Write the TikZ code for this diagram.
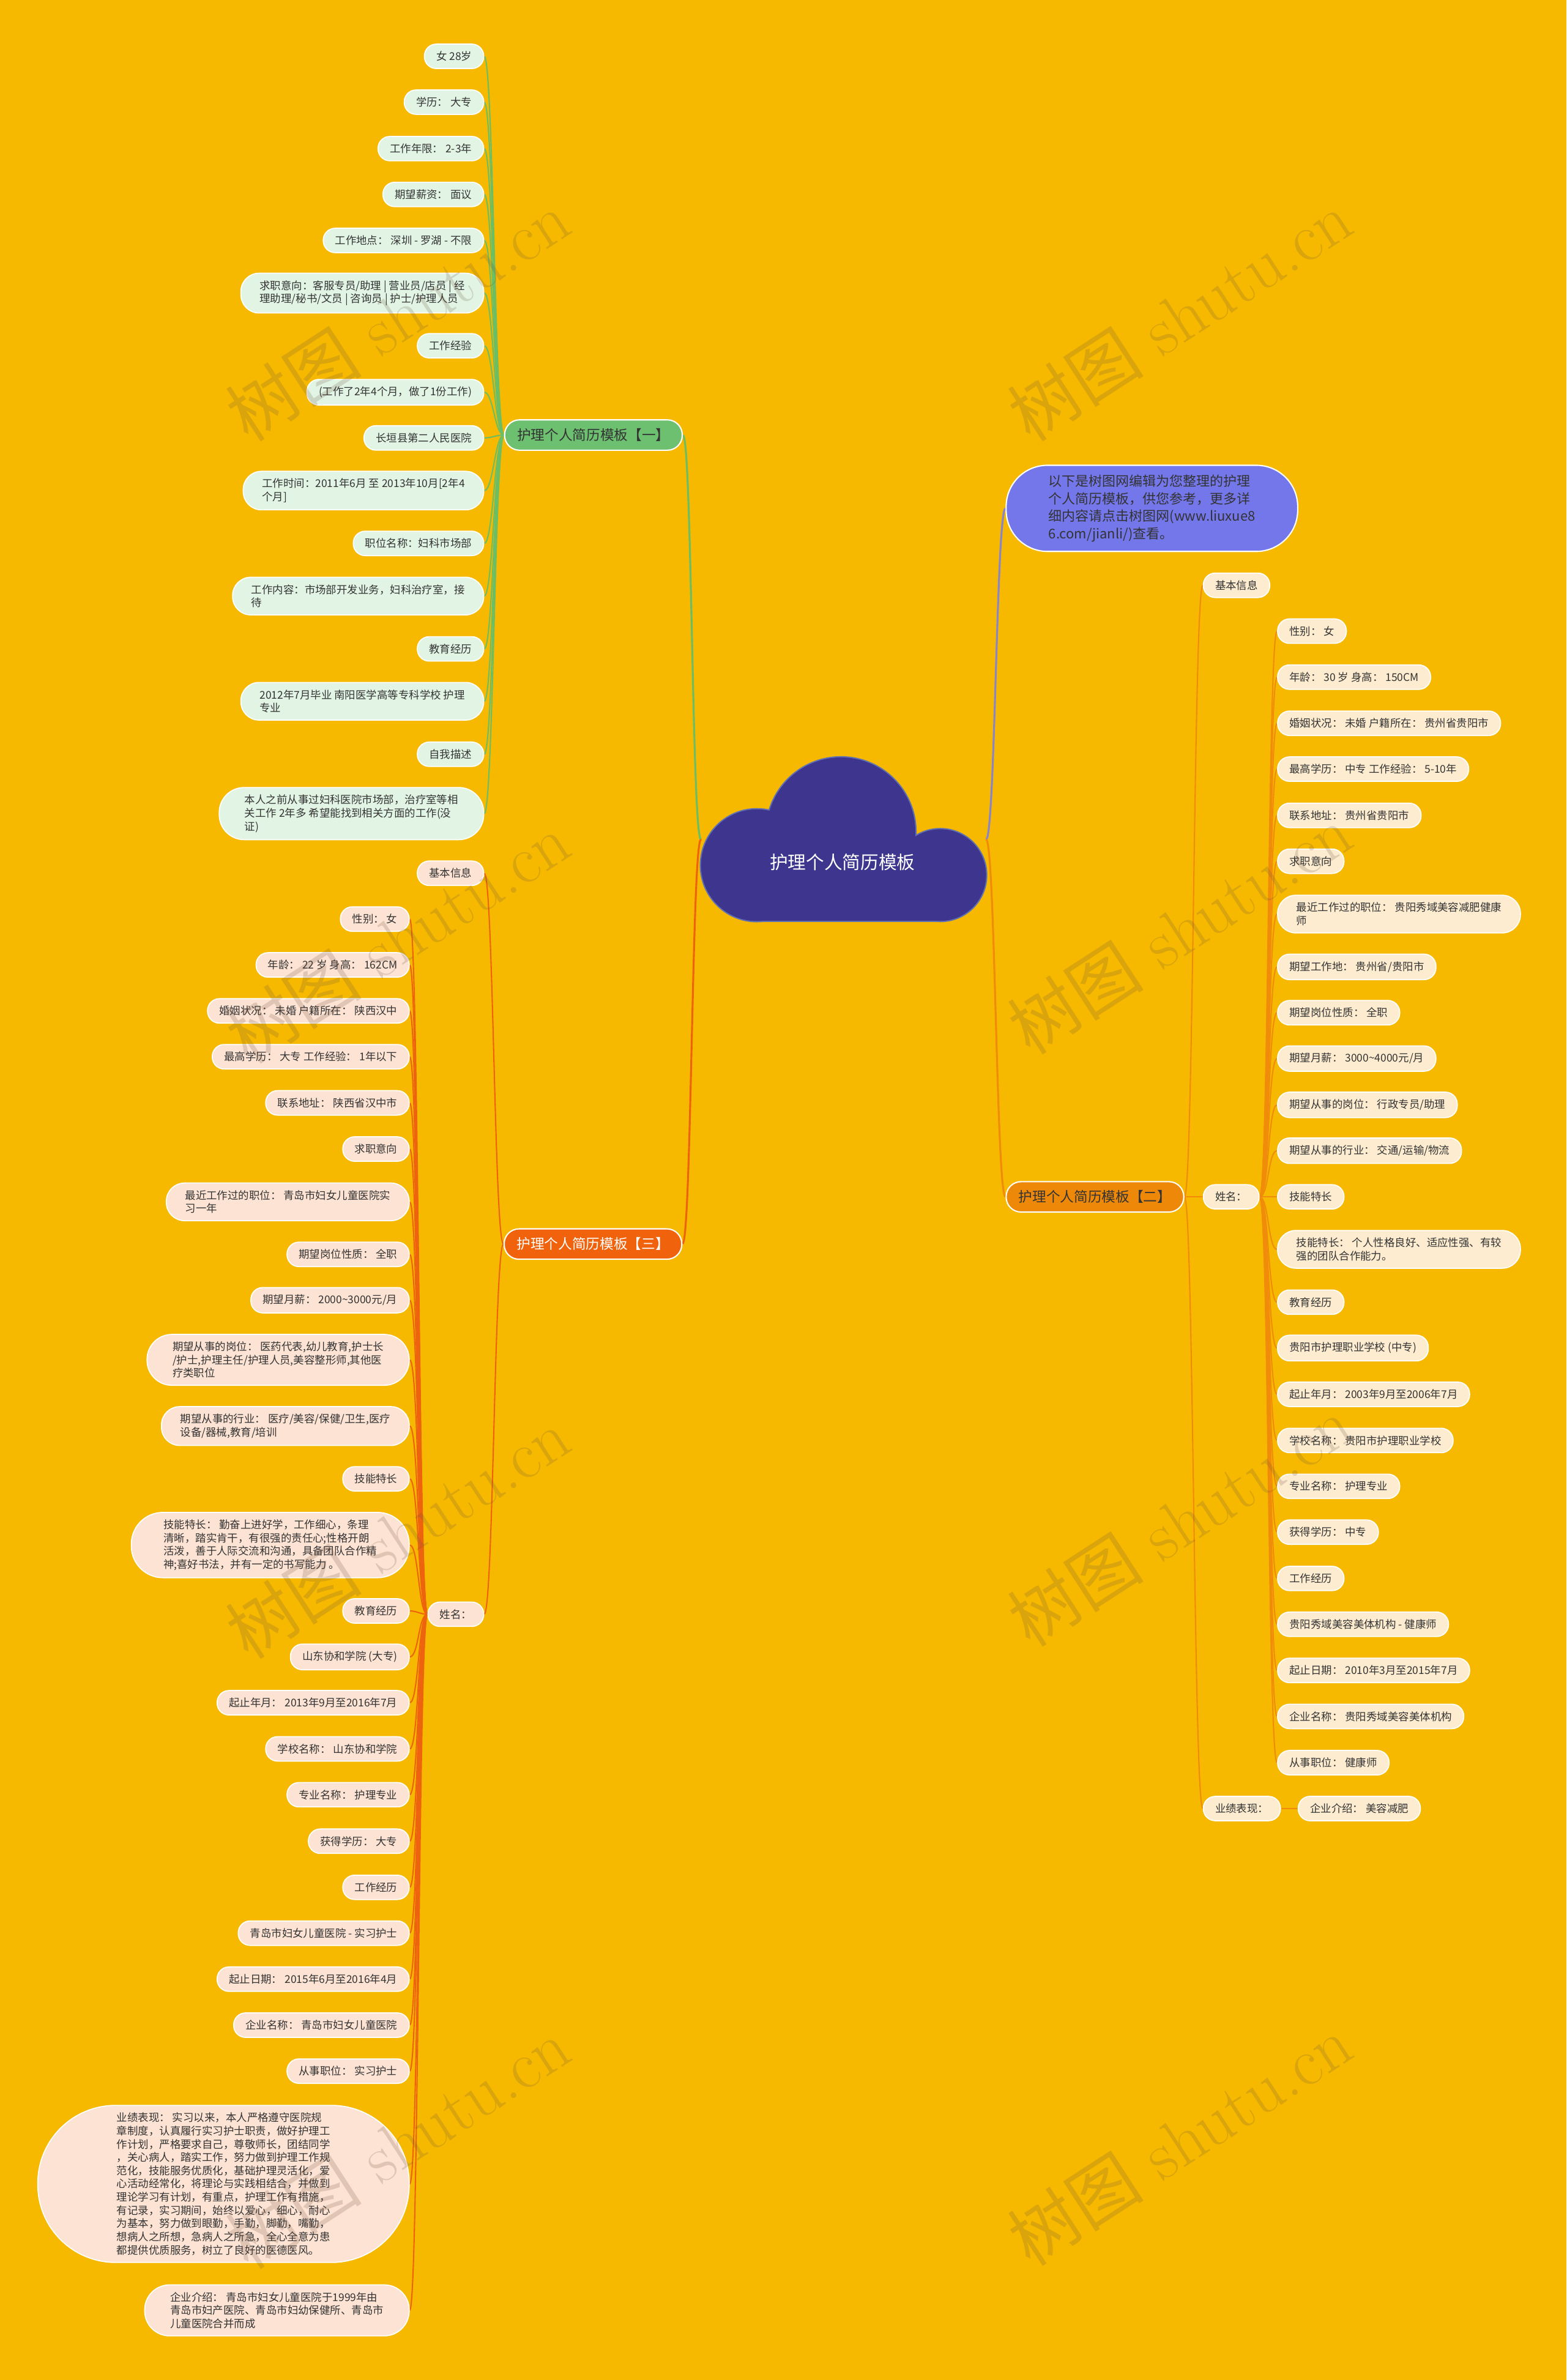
\documentclass[tikz,border=0pt]{standalone}
\usepackage{fontspec}
\newfontfamily\cjk{Noto Sans CJK SC}
\usetikzlibrary{backgrounds,topaths}

\definecolor{bgyellow}{RGB}{246,185,0}
\definecolor{cloudblue}{RGB}{61,53,142}
\definecolor{cloudedge}{RGB}{96,112,178}
\definecolor{ink}{RGB}{51,51,51}
\definecolor{mint}{RGB}{226,245,228}
\definecolor{peach}{RGB}{253,227,211}
\definecolor{cream}{RGB}{253,236,208}
\definecolor{greenhead}{RGB}{108,192,112}
\definecolor{redhead}{RGB}{240,98,12}
\definecolor{orangehead}{RGB}{238,136,8}
\definecolor{introblue}{RGB}{116,119,234}
\definecolor{greenwire}{RGB}{108,190,100}
\definecolor{redwire}{RGB}{238,100,14}
\definecolor{orangewire}{RGB}{240,140,10}
\definecolor{introwire}{RGB}{138,132,200}
\definecolor{stampbrown}{RGB}{110,80,60}

\tikzset{
  pill/.style={rectangle, rounded corners=0.195cm, draw=white, line width=0.5pt,
    inner xsep=0.195cm, inner ysep=3.4pt, minimum height=0.395cm, text=ink,
    align=left, font=\cjk\fontsize{5}{6.2}\selectfont},
  gleaf/.style={pill, fill=mint},
  rleaf/.style={pill, fill=peach},
  oleaf/.style={pill, fill=cream},
  lines2/.style={rounded corners=0.3cm, inner xsep=0.31cm},
  lines3/.style={rounded corners=0.41cm, inner xsep=0.42cm},
  lines4/.style={rounded corners=0.52cm, inner xsep=0.53cm},
  lines11/.style={rounded corners=1.28cm, inner xsep=1.3cm},
  head/.style={rectangle, rounded corners=0.245cm, draw=white, line width=0.6pt,
    minimum height=0.5cm, minimum width=2.925cm,
    font=\cjk\fontsize{6.5}{7.5}\selectfont},
  intro/.style={rectangle, rounded corners=0.68cm, draw=white, line width=0.6pt,
    fill=introblue, inner xsep=0.7cm, inner ysep=4.3pt, text=ink, align=left,
    font=\cjk\fontsize{6.3}{8.3}\selectfont},
  cloudrim/.style={fill=cloudblue, draw=cloudedge, line width=1.2pt},
  trunk/.style={line width=0.9pt},
  wire/.style={line width=0.6pt},
  lwire/.style={out=180, in=0, max distance=0.15cm},
  rwire/.style={out=0, in=180, max distance=0.15cm},
  wmark/.style={font=\fontsize{32}{32}\selectfont, text=stampbrown,
    text opacity=0.2, inner sep=0pt}
}

\begin{document}
\begin{tikzpicture}[x=0.025cm, y=-0.025cm]
    % sheet size
    \useasboundingbox (0,0) rectangle (1032,1568);

    % the cloud: outline first, then fill again to hide the inner seams
    \filldraw[cloudrim] (498.6,570) circle[radius=36.8];
    \filldraw[cloudrim] (554,548) circle[radius=49];
    \filldraw[cloudrim] (619.4,576.5) circle[radius=30.2];
    \filldraw[cloudrim] (498.6,560) rectangle (619.4,606.7);
    \fill[cloudblue] (498.6,570) circle[radius=36.8];
    \fill[cloudblue] (554,548) circle[radius=49];
    \fill[cloudblue] (619.4,576.5) circle[radius=30.2];
    \fill[cloudblue] (498.6,560) rectangle (619.4,606.7);
    \node[font=\cjk\fontsize{8.5}{10}\selectfont, text=white] (root) at (555,568) {护理个人简历模板};
    \coordinate (rootw) at (461.8,553);
    \coordinate (roote) at (649.6,553);

    % branch heads
    \node[head, fill=greenhead, text=ink, anchor=west] (headg) at (332,286.6) {护理个人简历模板【一】};
    \node[head, fill=redhead, text=white, anchor=west] (headr) at (331.7,819.6) {护理个人简历模板【三】};
    \node[head, fill=orangehead, text=ink, anchor=west] (heado) at (662.4,788.5) {护理个人简历模板【二】};
    \node[intro, anchor=west] (intro) at (662.4,334.9) {以下是树图网编辑为您整理的护理\\个人简历模板，供您参考，更多详\\细内容请点击树图网(www.liuxue8\\6.com/jianli/)查看。};

    % branch one (left, green)
    \node[gleaf, anchor=east] (g1) at (319,37.1) {女 28岁};
    \node[gleaf, anchor=east] (g2) at (319,67.3) {学历： 大专};
    \node[gleaf, anchor=east] (g3) at (319,97.9) {工作年限： 2-3年};
    \node[gleaf, anchor=east] (g4) at (319,128.1) {期望薪资： 面议};
    \node[gleaf, anchor=east] (g5) at (319,158.4) {工作地点： 深圳 - 罗湖 - 不限};
    \node[gleaf, lines2, anchor=east] (g6) at (319,193.1) {求职意向：客服专员/助理 | 营业员/店员 | 经\\理助理/秘书/文员 | 咨询员 | 护士/护理人员};
    \node[gleaf, anchor=east] (g7) at (319,227.8) {工作经验};
    \node[gleaf, anchor=east] (g8) at (319,258.4) {(工作了2年4个月，做了1份工作)};
    \node[gleaf, anchor=east] (g9) at (319,288.5) {长垣县第二人民医院};
    \node[gleaf, lines2, anchor=east] (g10) at (319,323.2) {工作时间：2011年6月 至 2013年10月[2年4\\个月]};
    \node[gleaf, anchor=east] (g11) at (319,358) {职位名称：妇科市场部};
    \node[gleaf, lines2, anchor=east] (g12) at (319,392.7) {工作内容：市场部开发业务，妇科治疗室，接\\待};
    \node[gleaf, anchor=east] (g13) at (319,427.5) {教育经历};
    \node[gleaf, lines2, anchor=east] (g14) at (319,462) {2012年7月毕业 南阳医学高等专科学校 护理\\专业};
    \node[gleaf, anchor=east] (g15) at (319,496.9) {自我描述};
    \node[gleaf, lines3, anchor=east] (g16) at (319,536) {本人之前从事过妇科医院市场部，治疗室等相\\关工作 2年多 希望能找到相关方面的工作(没\\证)};

    % branch three (left, red)
    \node[rleaf, anchor=east] (rb) at (319,575.3) {基本信息};
    \node[rleaf, anchor=east] (rn) at (319,1063.5) {姓名：};
    \node[rleaf, anchor=east] (r1) at (269.9,605.5) {性别： 女};
    \node[rleaf, anchor=east] (r2) at (269.9,635.7) {年龄： 22 岁 身高： 162CM};
    \node[rleaf, anchor=east] (r3) at (269.9,666) {婚姻状况： 未婚 户籍所在： 陕西汉中};
    \node[rleaf, anchor=east] (r4) at (269.9,696.2) {最高学历： 大专 工作经验： 1年以下};
    \node[rleaf, anchor=east] (r5) at (269.9,726.6) {联系地址： 陕西省汉中市};
    \node[rleaf, anchor=east] (r6) at (269.9,757) {求职意向};
    \node[rleaf, lines2, anchor=east] (r7) at (269.9,791.8) {最近工作过的职位： 青岛市妇女儿童医院实\\习一年};
    \node[rleaf, anchor=east] (r8) at (269.9,826.4) {期望岗位性质： 全职};
    \node[rleaf, anchor=east] (r9) at (269.9,856.6) {期望月薪： 2000\textasciitilde3000元/月};
    \node[rleaf, lines3, anchor=east] (r10) at (269.9,895.9) {期望从事的岗位： 医药代表,幼儿教育,护士长\\/护士,护理主任/护理人员,美容整形师,其他医\\疗类职位};
    \node[rleaf, lines2, anchor=east] (r11) at (269.9,939.5) {期望从事的行业： 医疗/美容/保健/卫生,医疗\\设备/器械,教育/培训};
    \node[rleaf, anchor=east] (r12) at (269.9,974.3) {技能特长};
    \node[rleaf, lines4, anchor=east] (r13) at (269.9,1017.9) {技能特长： 勤奋上进好学，工作细心，条理\\清晰，踏实肯干，有很强的责任心;性格开朗\\活泼，善于人际交流和沟通，具备团队合作精\\神;喜好书法，并有一定的书写能力 。};
    \node[rleaf, anchor=east] (r14) at (269.9,1061.3) {教育经历};
    \node[rleaf, anchor=east] (r15) at (269.9,1091.6) {山东协和学院 (大专)};
    \node[rleaf, anchor=east] (r16) at (269.9,1121.8) {起止年月： 2013年9月至2016年7月};
    \node[rleaf, anchor=east] (r17) at (269.9,1152.2) {学校名称： 山东协和学院};
    \node[rleaf, anchor=east] (r18) at (269.9,1182.4) {专业名称： 护理专业};
    \node[rleaf, anchor=east] (r19) at (269.9,1213) {获得学历： 大专};
    \node[rleaf, anchor=east] (r20) at (269.9,1243.4) {工作经历};
    \node[rleaf, anchor=east] (r21) at (269.9,1273.6) {青岛市妇女儿童医院 - 实习护士};
    \node[rleaf, anchor=east] (r22) at (269.9,1303.9) {起止日期： 2015年6月至2016年4月};
    \node[rleaf, anchor=east] (r23) at (269.9,1334.2) {企业名称： 青岛市妇女儿童医院};
    \node[rleaf, anchor=east] (r24) at (269.9,1364.5) {从事职位： 实习护士};
    \node[rleaf, lines11, anchor=east] (r25) at (269.9,1438.8) {业绩表现： 实习以来，本人严格遵守医院规\\章制度，认真履行实习护士职责，做好护理工\\作计划，严格要求自己，尊敬师长，团结同学\\，关心病人，踏实工作，努力做到护理工作规\\范化，技能服务优质化，基础护理灵活化，爱\\心活动经常化，将理论与实践相结合，并做到\\理论学习有计划，有重点，护理工作有措施，\\有记录，实习期间，始终以爱心，细心，耐心\\为基本，努力做到眼勤，手勤，脚勤，嘴勤，\\想病人之所想，急病人之所急，全心全意为患\\都提供优质服务，树立了良好的医德医风。};
    \node[rleaf, lines3, anchor=east] (r26) at (269.9,1522.1) {企业介绍： 青岛市妇女儿童医院于1999年由\\青岛市妇产医院、青岛市妇幼保健所、青岛市\\儿童医院合并而成};

    % branch two (right, orange)
    \node[oleaf, anchor=west] (ob) at (792.4,385.6) {基本信息};
    \node[oleaf, anchor=west] (on) at (792.4,788.5) {姓名：};
    \node[oleaf, anchor=west] (op) at (792.4,1191.5) {业绩表现：};
    \node[oleaf, anchor=west] (oq) at (854.9,1191.5) {企业介绍： 美容减肥};
    \node[oleaf, anchor=west] (o1) at (841.3,415.8) {性别： 女};
    \node[oleaf, anchor=west] (o2) at (841.3,446.1) {年龄： 30 岁 身高： 150CM};
    \node[oleaf, anchor=west] (o3) at (841.3,476.5) {婚姻状况： 未婚 户籍所在： 贵州省贵阳市};
    \node[oleaf, anchor=west] (o4) at (841.3,506.7) {最高学历： 中专 工作经验： 5-10年};
    \node[oleaf, anchor=west] (o5) at (841.3,537.2) {联系地址： 贵州省贵阳市};
    \node[oleaf, anchor=west] (o6) at (841.3,567.4) {求职意向};
    \node[oleaf, lines2, anchor=west] (o7) at (841.3,602.2) {最近工作过的职位： 贵阳秀域美容减肥健康\\师};
    \node[oleaf, anchor=west] (o8) at (841.3,637) {期望工作地： 贵州省/贵阳市};
    \node[oleaf, anchor=west] (o9) at (841.3,667.2) {期望岗位性质： 全职};
    \node[oleaf, anchor=west] (o10) at (841.3,697.4) {期望月薪： 3000\textasciitilde4000元/月};
    \node[oleaf, anchor=west] (o11) at (841.3,727.9) {期望从事的岗位： 行政专员/助理};
    \node[oleaf, anchor=west] (o12) at (841.3,758.1) {期望从事的行业： 交通/运输/物流};
    \node[oleaf, anchor=west] (o13) at (841.3,788.5) {技能特长};
    \node[oleaf, lines2, anchor=west] (o14) at (841.3,823.1) {技能特长： 个人性格良好、适应性强、有较\\强的团队合作能力。};
    \node[oleaf, anchor=west] (o15) at (841.3,857.9) {教育经历};
    \node[oleaf, anchor=west] (o16) at (841.3,888.1) {贵阳市护理职业学校 (中专)};
    \node[oleaf, anchor=west] (o17) at (841.3,918.6) {起止年月： 2003年9月至2006年7月};
    \node[oleaf, anchor=west] (o18) at (841.3,949) {学校名称： 贵阳市护理职业学校};
    \node[oleaf, anchor=west] (o19) at (841.3,979.2) {专业名称： 护理专业};
    \node[oleaf, anchor=west] (o20) at (841.3,1009.4) {获得学历： 中专};
    \node[oleaf, anchor=west] (o21) at (841.3,1039.9) {工作经历};
    \node[oleaf, anchor=west] (o22) at (841.3,1070.1) {贵阳秀域美容美体机构 - 健康师};
    \node[oleaf, anchor=west] (o23) at (841.3,1100.5) {起止日期： 2010年3月至2015年7月};
    \node[oleaf, anchor=west] (o24) at (841.3,1130.8) {企业名称： 贵阳秀域美容美体机构};
    \node[oleaf, anchor=west] (o25) at (841.3,1161.3) {从事职位： 健康师};

    \begin{scope}[on background layer]
    \fill[bgyellow] (0,0) rectangle (1032,1568);

    % trunks out of the cloud
    \draw[trunk, greenwire] (headg.east) to[rwire] (rootw);
    \draw[trunk, redwire] (headr.east) to[rwire] (rootw);
    \draw[trunk, introwire] (roote) to[rwire] (intro.west);
    \draw[trunk, orangewire] (roote) to[rwire] (heado.west);

    % branch one
    \draw[wire, greenwire] (headg.west) to[lwire] (g1.east);
    \draw[wire, greenwire] (headg.west) to[lwire] (g2.east);
    \draw[wire, greenwire] (headg.west) to[lwire] (g3.east);
    \draw[wire, greenwire] (headg.west) to[lwire] (g4.east);
    \draw[wire, greenwire] (headg.west) to[lwire] (g5.east);
    \draw[wire, greenwire] (headg.west) to[lwire] (g6.east);
    \draw[wire, greenwire] (headg.west) to[lwire] (g7.east);
    \draw[wire, greenwire] (headg.west) to[lwire] (g8.east);
    \draw[wire, greenwire] (headg.west) to[lwire] (g9.east);
    \draw[wire, greenwire] (headg.west) to[lwire] (g10.east);
    \draw[wire, greenwire] (headg.west) to[lwire] (g11.east);
    \draw[wire, greenwire] (headg.west) to[lwire] (g12.east);
    \draw[wire, greenwire] (headg.west) to[lwire] (g13.east);
    \draw[wire, greenwire] (headg.west) to[lwire] (g14.east);
    \draw[wire, greenwire] (headg.west) to[lwire] (g15.east);
    \draw[wire, greenwire] (headg.west) to[lwire] (g16.east);

    % branch three
    \draw[wire, redwire] (headr.west) to[lwire] (rb.east);
    \draw[wire, redwire] (headr.west) to[lwire] (rn.east);
    \draw[wire, redwire] (rn.west) to[lwire] (r1.east);
    \draw[wire, redwire] (rn.west) to[lwire] (r2.east);
    \draw[wire, redwire] (rn.west) to[lwire] (r3.east);
    \draw[wire, redwire] (rn.west) to[lwire] (r4.east);
    \draw[wire, redwire] (rn.west) to[lwire] (r5.east);
    \draw[wire, redwire] (rn.west) to[lwire] (r6.east);
    \draw[wire, redwire] (rn.west) to[lwire] (r7.east);
    \draw[wire, redwire] (rn.west) to[lwire] (r8.east);
    \draw[wire, redwire] (rn.west) to[lwire] (r9.east);
    \draw[wire, redwire] (rn.west) to[lwire] (r10.east);
    \draw[wire, redwire] (rn.west) to[lwire] (r11.east);
    \draw[wire, redwire] (rn.west) to[lwire] (r12.east);
    \draw[wire, redwire] (rn.west) to[lwire] (r13.east);
    \draw[wire, redwire] (rn.west) to[lwire] (r14.east);
    \draw[wire, redwire] (rn.west) to[lwire] (r15.east);
    \draw[wire, redwire] (rn.west) to[lwire] (r16.east);
    \draw[wire, redwire] (rn.west) to[lwire] (r17.east);
    \draw[wire, redwire] (rn.west) to[lwire] (r18.east);
    \draw[wire, redwire] (rn.west) to[lwire] (r19.east);
    \draw[wire, redwire] (rn.west) to[lwire] (r20.east);
    \draw[wire, redwire] (rn.west) to[lwire] (r21.east);
    \draw[wire, redwire] (rn.west) to[lwire] (r22.east);
    \draw[wire, redwire] (rn.west) to[lwire] (r23.east);
    \draw[wire, redwire] (rn.west) to[lwire] (r24.east);
    \draw[wire, redwire] (rn.west) to[lwire] (r25.east);
    \draw[wire, redwire] (rn.west) to[lwire] (r26.east);

    % branch two
    \draw[wire, orangewire] (heado.east) to[rwire] (ob.west);
    \draw[wire, orangewire] (heado.east) to[rwire] (on.west);
    \draw[wire, orangewire] (heado.east) to[rwire] (op.west);
    \draw[wire, orangewire] (op.east) to[rwire] (oq.west);
    \draw[wire, orangewire] (on.east) to[rwire] (o1.west);
    \draw[wire, orangewire] (on.east) to[rwire] (o2.west);
    \draw[wire, orangewire] (on.east) to[rwire] (o3.west);
    \draw[wire, orangewire] (on.east) to[rwire] (o4.west);
    \draw[wire, orangewire] (on.east) to[rwire] (o5.west);
    \draw[wire, orangewire] (on.east) to[rwire] (o6.west);
    \draw[wire, orangewire] (on.east) to[rwire] (o7.west);
    \draw[wire, orangewire] (on.east) to[rwire] (o8.west);
    \draw[wire, orangewire] (on.east) to[rwire] (o9.west);
    \draw[wire, orangewire] (on.east) to[rwire] (o10.west);
    \draw[wire, orangewire] (on.east) to[rwire] (o11.west);
    \draw[wire, orangewire] (on.east) to[rwire] (o12.west);
    \draw[wire, orangewire] (on.east) to[rwire] (o13.west);
    \draw[wire, orangewire] (on.east) to[rwire] (o14.west);
    \draw[wire, orangewire] (on.east) to[rwire] (o15.west);
    \draw[wire, orangewire] (on.east) to[rwire] (o16.west);
    \draw[wire, orangewire] (on.east) to[rwire] (o17.west);
    \draw[wire, orangewire] (on.east) to[rwire] (o18.west);
    \draw[wire, orangewire] (on.east) to[rwire] (o19.west);
    \draw[wire, orangewire] (on.east) to[rwire] (o20.west);
    \draw[wire, orangewire] (on.east) to[rwire] (o21.west);
    \draw[wire, orangewire] (on.east) to[rwire] (o22.west);
    \draw[wire, orangewire] (on.east) to[rwire] (o23.west);
    \draw[wire, orangewire] (on.east) to[rwire] (o24.west);
    \draw[wire, orangewire] (on.east) to[rwire] (o25.west);
    \end{scope}

    % watermark
    \node[wmark, rotate=33] (wm1) at (262,208) {{\cjk 树图} shutu.cn};
    \node[wmark, rotate=33] (wm2) at (777,208) {{\cjk 树图} shutu.cn};
    \node[wmark, rotate=33] (wm3) at (262,618) {{\cjk 树图} shutu.cn};
    \node[wmark, rotate=33] (wm4) at (777,612) {{\cjk 树图} shutu.cn};
    \node[wmark, rotate=33] (wm5) at (262,1010) {{\cjk 树图} shutu.cn};
    \node[wmark, rotate=33] (wm6) at (777,1002) {{\cjk 树图} shutu.cn};
    \node[wmark, rotate=33] (wm7) at (262,1412) {{\cjk 树图} shutu.cn};
    \node[wmark, rotate=33] (wm8) at (777,1410) {{\cjk 树图} shutu.cn};
\end{tikzpicture}
\end{document}
